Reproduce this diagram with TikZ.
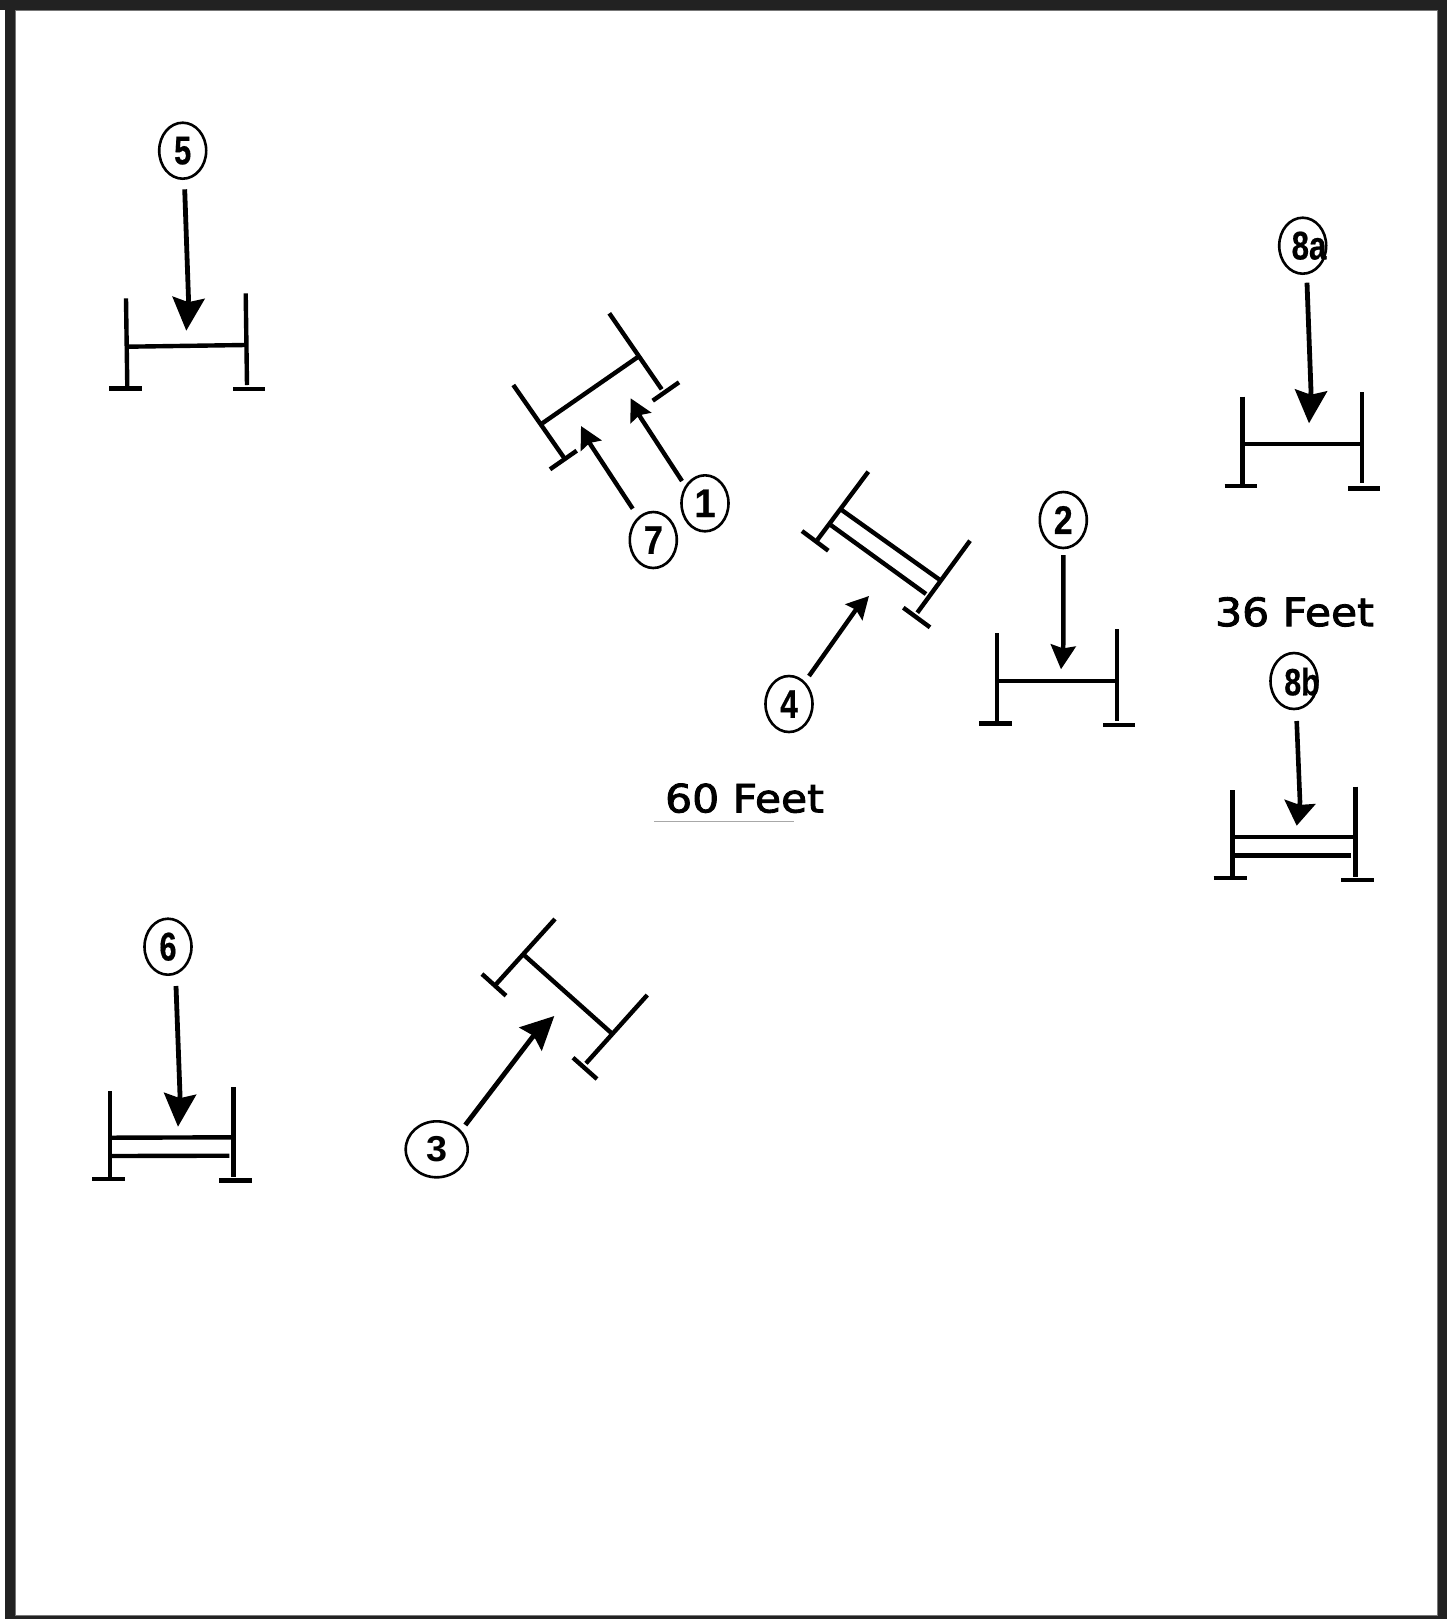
\documentclass[tikz,border=0pt]{standalone}
\usepackage{graphicx}
\usepackage{fontspec}
\setmainfont{Liberation Sans}
\newfontfamily\heavyfont[BoldFeatures={FakeBold=0.5}]{Liberation Sans}
\newfontfamily\dimfont[FakeBold=2.2]{DejaVu Sans}
\usetikzlibrary{arrows.meta,shapes.geometric}
\definecolor{framedark}{HTML}{222222}
\definecolor{frameedge}{HTML}{777777}
\definecolor{rulegray}{HTML}{A8A8A8}
\newcommand{\badgetxt}[3]{\scalebox{#1}[1]{\heavyfont\fontsize{#2}{#2}\selectfont\bfseries #3}}
\newcommand{\plainbadgetxt}[3]{\scalebox{#1}[1]{\fontsize{#2}{#2}\selectfont\bfseries #3}}
\newcommand{\dimtxt}[2]{\scalebox{#1}[1]{\dimfont\fontsize{19.5pt}{20pt}\selectfont #2}}
\tikzset{
  barline/.style={line width=2.2pt,black},
  bigarrow/.style={line width=2.4pt,black,line join=round,-{Stealth[length=16.5pt,width=16pt,inset=2.2pt]}},
  flatarrow/.style={line width=2.3pt,black,line join=round,-{Stealth[length=12pt,width=15.5pt,inset=1.5pt]}},
  midarrow/.style={line width=2.2pt,black,line join=round,-{Stealth[length=12pt,width=12.5pt,inset=1.5pt]}},
  smallarrow/.style={line width=2.2pt,black,line join=round,-{Stealth[length=11pt,width=11.5pt,inset=1.5pt]}},
  badge/.style={draw=black,line width=1.3pt,ellipse,inner sep=0pt,minimum width=47pt/2,minimum height=56pt/2,text=black},
  widebadge/.style={badge,minimum width=62pt/2},
  numlabel/.style={inner sep=0pt,text=black},
  dimlabel/.style={inner sep=0pt,text=black}
}
\begin{document}
\begin{tikzpicture}[x=0.5pt,y=-0.5pt]
\useasboundingbox (0,0) rectangle (1447,1619);
\fill[white] (0,0) rectangle (1447,1619);
% frame
\fill[framedark,even odd rule] (5,0) rectangle (1447,1619) (15,10) rectangle (1438,1616);
\fill[framedark] (0,0) rectangle (5,10);
\draw[frameedge,line width=0.5pt] (15.5,10.5) rectangle (1437.5,1615.5);

% badges
\node[badge] (n5) at (182.7,150.7) {\badgetxt{.77}{20pt}{5}};
\node[badge] (n1) at (705,503.3) {\badgetxt{.95}{20pt}{1}};
\node[badge] (n7) at (653.3,540) {\badgetxt{.85}{20pt}{7}};
\node[badge] (n2) at (1063.3,520) {\badgetxt{.85}{20pt}{2}};
\node[badge] (n4) at (789,704) {\badgetxt{.8}{20pt}{4}};
\node[badge] (n6) at (168,946.7) {\badgetxt{.77}{20pt}{6}};
\node[widebadge] (n3) at (436.7,1149.3) {\plainbadgetxt{1.05}{18pt}{3}};
\node[badge] (n8a) at (1302.7,245.7) {};
\node[numlabel] (t8a) at (1309,245.7) {\badgetxt{.78}{20pt}{8a}};
\node[badge] (n8b) at (1294,681) {};
\node[numlabel] (t8b) at (1302,681.7) {\badgetxt{.8}{19pt}{8b}};

% dimension labels
\node[dimlabel] (d60) at (744.5,798.2) {\dimtxt{1.09}{60 Feet}};
\node[dimlabel] (d36) at (1294.5,611.9) {\dimtxt{1.09}{36 Feet}};
\draw[rulegray,line width=0.5pt] (654.3,821) -- (794,821);

% barrier 5
\draw[barline] (126,298.3) -- (127.3,386.7);
\draw[barline] (245.7,293.3) -- (247,385);
\draw[barline] (109.3,388.3) -- (141.7,388.3);
\draw[barline] (233,389) -- (265,389);
\draw[barline] (127.3,346.7) -- (245,345);
\coordinate (via5) at (188.5,299);
\coordinate (tip5) at (186.3,330.7);
\draw[bigarrow] ([shift={(2,38.6)}]n5.center) -- (via5) -- (tip5);

% barrier 8a
\draw[barline] (1242.3,396.7) -- (1242.3,485);
\draw[barline] (1362,392.3) -- (1362,483.3);
\draw[barline] (1224.7,486) -- (1256.7,486);
\draw[barline] (1348,488.3) -- (1380,488.3);
\draw[barline] (1242.3,444) -- (1362,444);
\coordinate (via8a) at (1311,391);
\coordinate (tip8a) at (1309,423.3);
\draw[bigarrow] ([shift={(4.3,37)}]n8a.center) -- (via8a) -- (tip8a);

% barrier 2
\draw[barline] (997,633.3) -- (997,721.7);
\draw[barline] (1116.7,629) -- (1116.7,720.7);
\draw[barline] (979.3,723.3) -- (1011.7,723.3);
\draw[barline] (1103,725) -- (1135,725);
\draw[barline] (997,681) -- (1116.7,681);
\coordinate (via2) at (1063.3,645);
\coordinate (tip2) at (1061,669.3);
\draw[midarrow] ([shift={(0,35)}]n2.center) -- (via2) -- (tip2);

% barrier 8b
\draw[barline] (1232.3,790) -- (1232.3,876.7);
\draw[barline] (1355.3,786.7) -- (1355.3,876.7);
\draw[barline] (1213.7,877.7) -- (1246.7,877.7);
\draw[barline] (1341,879.7) -- (1374,879.7);
\draw[barline] (1233.3,837) -- (1355.3,837);
\draw[barline] (1233.3,855.3) -- (1351.3,855.3);
\coordinate (via8b) at (1300,802);
\coordinate (tip8b) at (1296.7,825.7);
\draw[flatarrow] ([shift={(2.7,40)}]n8b.center) -- (via8b) -- (tip8b);

% barrier 6
\draw[barline] (110,1091) -- (110,1176.7);
\draw[barline] (233.3,1087.3) -- (233.3,1176.7);
\draw[barline] (92.3,1178.7) -- (125,1178.7);
\draw[barline] (219.3,1180.3) -- (252.3,1180.3);
\draw[barline] (111.7,1137.7) -- (233.3,1137.3);
\draw[barline] (111.7,1156) -- (229.3,1155.7);
\coordinate (via6) at (180,1095);
\coordinate (tip6) at (178,1126.7);
\draw[bigarrow] ([shift={(8,39.3)}]n6.center) -- (via6) -- (tip6);

% barrier 3
\draw[barline] (555,919) -- (496,984.3);
\draw[barline] (482,974) -- (506,995.7);
\draw[barline] (524,955) -- (611.7,1033.3);
\draw[barline] (647.3,995) -- (586,1063.3);
\draw[barline] (573,1057.7) -- (597,1079);
\coordinate (via3) at (532.3,1037.3);
\coordinate (tip3) at (554.3,1016);
\draw[bigarrow] ([shift={(28.6,-24.3)}]n3.center) -- (via3) -- (tip3);

% barrier 1/7
\draw[barline] (609.3,313.3) -- (661.7,389.3);
\draw[barline] (513.3,385) -- (564,457.7);
\draw[barline] (542.3,423.3) -- (638.3,356.7);
\draw[barline] (652.7,400.7) -- (679,382.3);
\draw[barline] (550,469.3) -- (576.7,450.7);
\coordinate (via1) at (640.7,417.7);
\coordinate (tip1) at (630.7,398.3);
\coordinate (via7) at (590.8,445);
\coordinate (tip7) at (581,426);
\draw[smallarrow] ([shift={(-23,-22.3)}]n1.center) -- (via1) -- (tip1);
\draw[smallarrow] ([shift={(-20.6,-31.3)}]n7.center) -- (via7) -- (tip7);

% barrier 4
\draw[barline] (868.3,471.7) -- (817.3,540);
\draw[barline] (802,531) -- (828.3,550.7);
\draw[barline] (841.7,510) -- (940,580);
\draw[barline] (830.7,525) -- (926,594);
\draw[barline] (970,540.7) -- (917.3,612.7);
\draw[barline] (903.3,607.7) -- (930,627.3);
\coordinate (via4) at (855,611);
\coordinate (tip4) at (869,596);
\draw[smallarrow] ([shift={(20,-28)}]n4.center) -- (via4) -- (tip4);
\end{tikzpicture}
\end{document}
